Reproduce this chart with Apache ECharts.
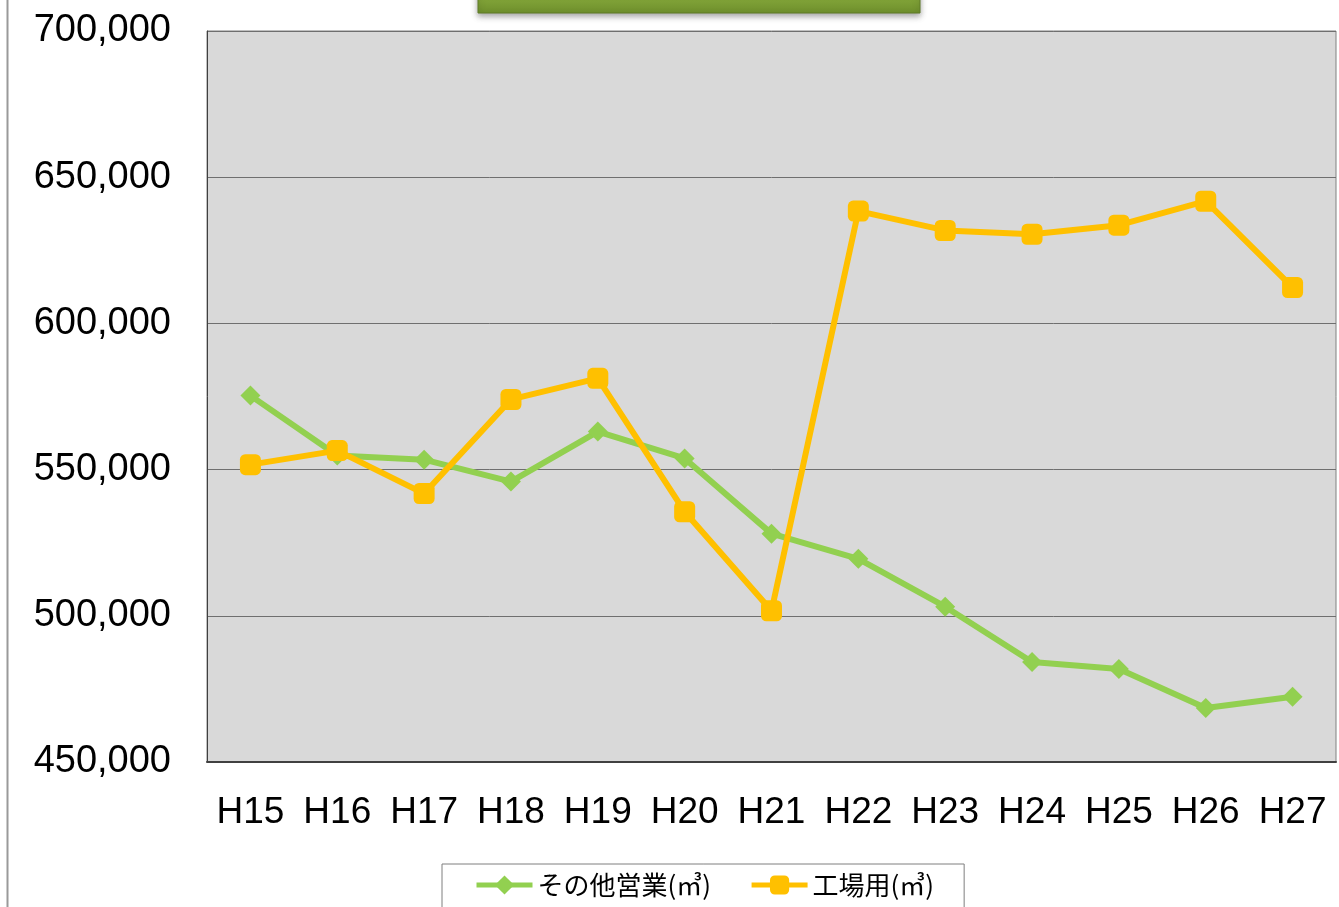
<!DOCTYPE html>
<html>
<head>
<meta charset="utf-8">
<script src="https://cdn.jsdelivr.net/npm/echarts@6/dist/echarts.min.js"></script>
<style>
html, body { margin: 0; padding: 0; background: #fff; }
#main { width: 1339px; height: 907px; }
</style>
</head>
<body>
<div id="main"></div>
<script>
var categories = ['H15', 'H16', 'H17', 'H18', 'H19', 'H20', 'H21', 'H22', 'H23', 'H24', 'H25', 'H26', 'H27'];
var otherBusiness = [575300, 554800, 553400, 545900, 563000, 553800, 528100, 519500, 503100, 484200, 481800, 468500, 472300];
var factory = [551700, 556500, 541800, 574000, 581200, 535600, 501700, 638400, 631800, 630500, 633600, 641800, 612300];
var seriesNames = ['その他営業(㎥)', '工場用(㎥)'];

var labelFont = "'Liberation Sans', Arial, sans-serif";

var myChart = echarts.init(document.getElementById('main'));

var option = {
    backgroundColor: '#fff',
    animation: false,
    color: ['#92D050', '#FFC000'],
    grid: {
        left: 207,
        top: 31,
        right: 3,
        bottom: 145,
        show: true,
        backgroundColor: '#d9d9d9',
        borderColor: '#808080',
        borderWidth: 1
    },
    legend: {
        left: 442,
        top: 864,
        width: 513,
        padding: [8, 30, 14, 32],
        itemGap: 38,
        itemWidth: 56,
        itemHeight: 24,
        backgroundColor: '#fff',
        borderColor: '#7f7f7f',
        borderWidth: 1,
        borderRadius: 0,
        lineStyle: { width: 5 },
        textStyle: {
            fontSize: 26,
            color: '#000',
            fontFamily: "'Noto Sans CJK JP', sans-serif"
        },
        data: seriesNames
    },
    xAxis: {
        type: 'category',
        data: categories,
        boundaryGap: true,
        axisLine: { lineStyle: { color: '#404040', width: 2 } },
        axisTick: { inside: true, length: 13, lineStyle: { color: '#333', width: 1.5 } },
        axisLabel: {
            interval: 0,
            margin: 32,
            fontSize: 37,
            color: '#000',
            fontFamily: labelFont
        }
    },
    yAxis: {
        type: 'value',
        min: 450000,
        max: 700000,
        interval: 50000,
        axisLine: { show: true, lineStyle: { color: '#404040', width: 1 } },
        axisTick: { show: false },
        splitLine: { lineStyle: { color: '#6f6f6f', width: 1 } },
        axisLabel: {
            margin: 36,
            fontSize: 38,
            color: '#000',
            fontFamily: labelFont,
            formatter: function (v) { return v.toLocaleString('en-US'); }
        }
    },
    graphic: [
        {
            type: 'line',
            shape: { x1: 7.5, y1: 0, x2: 7.5, y2: 907 },
            style: { stroke: '#9a9a9a', lineWidth: 2 }
        },
        {
            type: 'rect',
            shape: { x: 478, y: -10, width: 442, height: 23 },
            style: {
                fill: new echarts.graphic.LinearGradient(0, 0, 0, 1, [
                    { offset: 0, color: '#8db040' },
                    { offset: 1, color: '#6e8f2c' }
                ]),
                stroke: '#5f7a26',
                lineWidth: 1,
                shadowBlur: 6,
                shadowOffsetY: 3,
                shadowColor: 'rgba(0,0,0,0.35)'
            }
        }
    ],
    series: [
        {
            name: seriesNames[0],
            type: 'line',
            data: otherBusiness,
            symbol: 'diamond',
            symbolSize: 20,
            lineStyle: { width: 6, color: '#92D050' },
            itemStyle: { color: '#92D050' },
            z: 2
        },
        {
            name: seriesNames[1],
            type: 'line',
            data: factory,
            symbol: 'roundRect',
            symbolSize: 21,
            lineStyle: { width: 6, color: '#FFC000' },
            itemStyle: { color: '#FFC000' },
            z: 3
        }
    ]
};

if (option && typeof option === 'object') {
    myChart.setOption(option, true);
}
</script>
</body>
</html>
